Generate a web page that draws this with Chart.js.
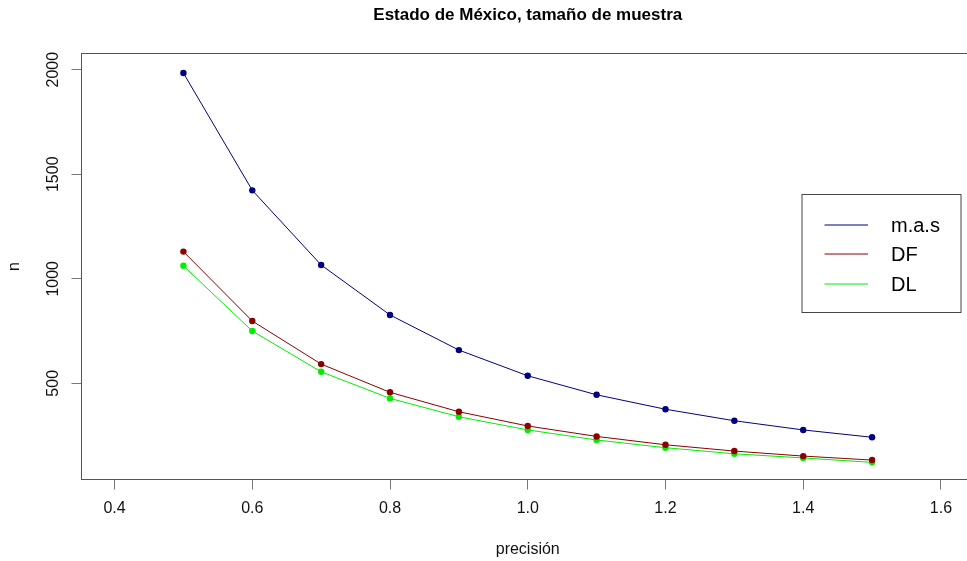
<!DOCTYPE html>
<html>
<head>
<meta charset="utf-8">
<title>Estado de México, tamaño de muestra</title>
<script src="https://cdn.jsdelivr.net/npm/chart.js@4.4.1/dist/chart.umd.min.js"></script>
<style>
  html, body { margin: 0; padding: 0; background: #fff; overflow: hidden; }
  canvas { display: block; }
</style>
</head>
<body>
<!-- el lienzo es un poco más ancho que la ventana: el lado derecho de la caja queda recortado -->
<canvas id="grafico" width="978" height="561"></canvas>
<script>
// precisión (eje x)
const precision = [0.5, 0.6, 0.7, 0.8, 0.9, 1.0, 1.1, 1.2, 1.3, 1.4, 1.5];

// tamaño de muestra n
const nMas = [1984, 1423, 1066, 827, 659, 536, 445, 376, 321, 277, 242];
const nDF = [1130, 798, 592, 457, 364, 296, 246, 206, 176, 152, 133];
const nDL = [1062, 750, 555, 428, 340, 277, 229, 192, 163, 143, 122];

// marcas de los ejes
const xTicks = [0.4, 0.6, 0.8, 1.0, 1.2, 1.4, 1.6];
const yTicks = [500, 1000, 1500, 2000];

const FUENTE = "'Liberation Sans', Arial, sans-serif";

function serie(label, valores, color) {
    return {
        label: label,
        data: precision.map((p, i) => ({ x: p, y: valores[i] })),
        borderColor: color,
        backgroundColor: color,
        pointBackgroundColor: color,
        pointBorderWidth: 0,
        pointRadius: 3.2,
        borderWidth: 1,
        tension: 0
    };
}

// caja del gráfico al estilo R
const caja = {
    id: 'caja',
    beforeDatasetsDraw(chart) {
        const a = chart.chartArea;
        const ctx = chart.ctx;
        ctx.save();
        ctx.strokeStyle = '#555';
        ctx.lineWidth = 1;
        ctx.strokeRect(a.left, a.top, a.right - a.left, a.bottom - a.top);
        ctx.restore();
    }
};

// leyenda dentro del área, con recuadro
const leyenda = {
    id: 'leyenda',
    afterDraw(chart) {
        const a = chart.chartArea;
        const ctx = chart.ctx;
        const x0 = a.right - 172, y0 = a.top + 141;
        ctx.save();
        ctx.fillStyle = '#fff';
        ctx.fillRect(x0, y0, 159, 118);
        ctx.strokeStyle = '#444';
        ctx.lineWidth = 1;
        ctx.strokeRect(x0, y0, 159, 118);
        ctx.font = '20px ' + FUENTE;
        ctx.textBaseline = 'middle';
        chart.data.datasets.forEach((ds, i) => {
            const y = Math.round(y0 + 30 + i * 29.5);
            ctx.strokeStyle = ds.borderColor;
            ctx.beginPath();
            ctx.moveTo(x0 + 22.5, y);
            ctx.lineTo(x0 + 66, y);
            ctx.stroke();
            ctx.fillStyle = '#000';
            ctx.fillText(ds.label, x0 + 89, y + 1);
        });
        ctx.restore();
    }
};

new Chart(document.getElementById('grafico'), {
    type: 'line',
    data: {
        datasets: [
            serie('m.a.s', nMas, '#000080'),
            serie('DF', nDF, '#8B0000'),
            serie('DL', nDL, '#00EE00')
        ]
    },
    options: {
        responsive: false,
        animation: false,
        devicePixelRatio: 1,
        layout: { padding: { left: 0, right: 0.5, top: 0, bottom: 0 } },
        plugins: {
            legend: { display: false },
            tooltip: { enabled: false },
            title: {
                display: true,
                fullSize: false,
                text: 'Estado de México, tamaño de muestra',
                color: '#000',
                font: { family: FUENTE, size: 17, weight: 'bold' },
                padding: { top: 5.5, bottom: 27.6 }
            }
        },
        scales: {
            x: {
                type: 'linear',
                min: 0.352,
                max: 1.648,
                afterBuildTicks: s => { s.ticks = xTicks.map(v => ({ value: v })); },
                afterFit: s => { s.height = 81.5; },
                grid: { drawOnChartArea: false, drawTicks: true, tickLength: 10, color: '#777' },
                border: { display: false },
                ticks: {
                    autoSkip: false,
                    maxRotation: 0,
                    padding: 9,
                    color: '#111',
                    font: { family: FUENTE, size: 16 },
                    callback: v => v.toFixed(1)
                },
                title: {
                    display: true,
                    text: 'precisión',
                    color: '#111',
                    font: { family: FUENTE, size: 16 },
                    padding: { top: 0, bottom: 2 }
                }
            },
            y: {
                min: 40,
                max: 2077.5,
                afterBuildTicks: s => { s.ticks = yTicks.map(v => ({ value: v })); },
                afterFit: s => { s.width = 81.5; },
                grid: { drawOnChartArea: false, drawTicks: true, tickLength: 10, color: '#777' },
                border: { display: false },
                ticks: {
                    autoSkip: false,
                    minRotation: 90,
                    maxRotation: 90,
                    crossAlign: 'center',
                    padding: 0,
                    color: '#111',
                    font: { family: FUENTE, size: 16 },
                    callback: v => String(v)
                },
                title: {
                    display: true,
                    text: 'n',
                    color: '#111',
                    font: { family: FUENTE, size: 16 },
                    padding: { top: 5.4, bottom: 0 }
                }
            }
        }
    },
    plugins: [caja, leyenda]
});
</script>
</body>
</html>
